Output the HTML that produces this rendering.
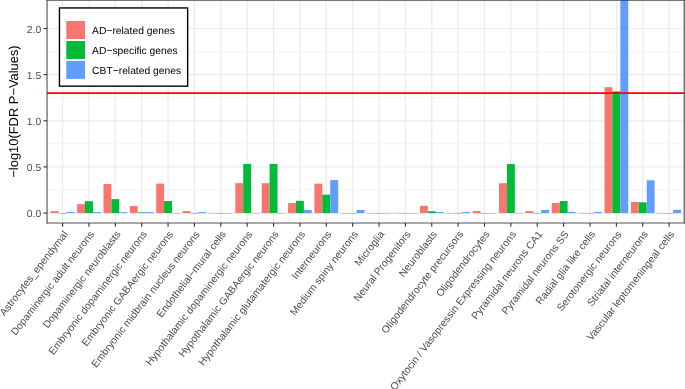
<!DOCTYPE html>
<html><head><meta charset="utf-8"><style>
html,body{margin:0;padding:0;background:#fff;}
body{width:685px;height:389px;overflow:hidden;}
svg{display:block;font-family:"Liberation Sans", sans-serif;will-change:transform;text-rendering:geometricPrecision;}
</style></head><body>
<svg width="685" height="389" viewBox="0 0 685 389">
<rect x="0" y="0" width="685" height="389" fill="#fff"/>
<defs><clipPath id="pc"><rect x="47.05" y="0.00" width="637.15" height="223.00"/></clipPath></defs>
<line x1="47.05" x2="684.2" y1="190.03" y2="190.03" stroke="#EBEBEB" stroke-width="0.6"/>
<line x1="47.05" x2="684.2" y1="143.88" y2="143.88" stroke="#EBEBEB" stroke-width="0.6"/>
<line x1="47.05" x2="684.2" y1="97.72" y2="97.72" stroke="#EBEBEB" stroke-width="0.6"/>
<line x1="47.05" x2="684.2" y1="51.57" y2="51.57" stroke="#EBEBEB" stroke-width="0.6"/>
<line x1="47.05" x2="684.2" y1="5.43" y2="5.43" stroke="#EBEBEB" stroke-width="0.6"/>
<line x1="47.05" x2="684.2" y1="213.10" y2="213.10" stroke="#EBEBEB" stroke-width="1.2"/>
<line x1="47.05" x2="684.2" y1="166.95" y2="166.95" stroke="#EBEBEB" stroke-width="1.2"/>
<line x1="47.05" x2="684.2" y1="120.80" y2="120.80" stroke="#EBEBEB" stroke-width="1.2"/>
<line x1="47.05" x2="684.2" y1="74.65" y2="74.65" stroke="#EBEBEB" stroke-width="1.2"/>
<line x1="47.05" x2="684.2" y1="28.50" y2="28.50" stroke="#EBEBEB" stroke-width="1.2"/>
<line x1="62.60" x2="62.60" y1="0.4" y2="223.0" stroke="#EBEBEB" stroke-width="1.2"/>
<line x1="88.97" x2="88.97" y1="0.4" y2="223.0" stroke="#EBEBEB" stroke-width="1.2"/>
<line x1="115.34" x2="115.34" y1="0.4" y2="223.0" stroke="#EBEBEB" stroke-width="1.2"/>
<line x1="141.71" x2="141.71" y1="0.4" y2="223.0" stroke="#EBEBEB" stroke-width="1.2"/>
<line x1="168.08" x2="168.08" y1="0.4" y2="223.0" stroke="#EBEBEB" stroke-width="1.2"/>
<line x1="194.45" x2="194.45" y1="0.4" y2="223.0" stroke="#EBEBEB" stroke-width="1.2"/>
<line x1="220.82" x2="220.82" y1="0.4" y2="223.0" stroke="#EBEBEB" stroke-width="1.2"/>
<line x1="247.19" x2="247.19" y1="0.4" y2="223.0" stroke="#EBEBEB" stroke-width="1.2"/>
<line x1="273.56" x2="273.56" y1="0.4" y2="223.0" stroke="#EBEBEB" stroke-width="1.2"/>
<line x1="299.93" x2="299.93" y1="0.4" y2="223.0" stroke="#EBEBEB" stroke-width="1.2"/>
<line x1="326.30" x2="326.30" y1="0.4" y2="223.0" stroke="#EBEBEB" stroke-width="1.2"/>
<line x1="352.67" x2="352.67" y1="0.4" y2="223.0" stroke="#EBEBEB" stroke-width="1.2"/>
<line x1="379.04" x2="379.04" y1="0.4" y2="223.0" stroke="#EBEBEB" stroke-width="1.2"/>
<line x1="405.41" x2="405.41" y1="0.4" y2="223.0" stroke="#EBEBEB" stroke-width="1.2"/>
<line x1="431.78" x2="431.78" y1="0.4" y2="223.0" stroke="#EBEBEB" stroke-width="1.2"/>
<line x1="458.15" x2="458.15" y1="0.4" y2="223.0" stroke="#EBEBEB" stroke-width="1.2"/>
<line x1="484.52" x2="484.52" y1="0.4" y2="223.0" stroke="#EBEBEB" stroke-width="1.2"/>
<line x1="510.89" x2="510.89" y1="0.4" y2="223.0" stroke="#EBEBEB" stroke-width="1.2"/>
<line x1="537.26" x2="537.26" y1="0.4" y2="223.0" stroke="#EBEBEB" stroke-width="1.2"/>
<line x1="563.63" x2="563.63" y1="0.4" y2="223.0" stroke="#EBEBEB" stroke-width="1.2"/>
<line x1="590.00" x2="590.00" y1="0.4" y2="223.0" stroke="#EBEBEB" stroke-width="1.2"/>
<line x1="616.37" x2="616.37" y1="0.4" y2="223.0" stroke="#EBEBEB" stroke-width="1.2"/>
<line x1="642.74" x2="642.74" y1="0.4" y2="223.0" stroke="#EBEBEB" stroke-width="1.2"/>
<line x1="669.11" x2="669.11" y1="0.4" y2="223.0" stroke="#EBEBEB" stroke-width="1.2"/>
<g clip-path="url(#pc)">
<rect x="50.73" y="211.16" width="7.91" height="1.94" fill="#F8766D"/>
<rect x="58.64" y="213.05" width="7.91" height="0.42" fill="#00BA38"/>
<rect x="66.56" y="212.08" width="7.91" height="1.02" fill="#619CFF"/>
<rect x="77.10" y="204.15" width="7.91" height="8.95" fill="#F8766D"/>
<rect x="85.01" y="201.19" width="7.91" height="11.91" fill="#00BA38"/>
<rect x="92.93" y="212.08" width="7.91" height="1.02" fill="#619CFF"/>
<rect x="103.47" y="183.93" width="7.91" height="29.17" fill="#F8766D"/>
<rect x="111.38" y="199.16" width="7.91" height="13.94" fill="#00BA38"/>
<rect x="119.30" y="212.18" width="7.91" height="0.92" fill="#619CFF"/>
<rect x="129.84" y="205.90" width="7.91" height="7.20" fill="#F8766D"/>
<rect x="137.75" y="212.36" width="7.91" height="0.74" fill="#00BA38"/>
<rect x="145.67" y="212.08" width="7.91" height="1.02" fill="#619CFF"/>
<rect x="156.21" y="183.56" width="7.91" height="29.54" fill="#F8766D"/>
<rect x="164.12" y="201.01" width="7.91" height="12.09" fill="#00BA38"/>
<rect x="172.04" y="213.05" width="7.91" height="0.42" fill="#619CFF"/>
<rect x="182.58" y="211.07" width="7.91" height="2.03" fill="#F8766D"/>
<rect x="190.49" y="213.05" width="7.91" height="0.42" fill="#00BA38"/>
<rect x="198.41" y="212.08" width="7.91" height="1.02" fill="#619CFF"/>
<rect x="208.95" y="213.05" width="7.91" height="0.42" fill="#F8766D"/>
<rect x="216.86" y="213.05" width="7.91" height="0.42" fill="#00BA38"/>
<rect x="224.78" y="213.05" width="7.91" height="0.42" fill="#619CFF"/>
<rect x="235.32" y="183.19" width="7.91" height="29.91" fill="#F8766D"/>
<rect x="243.23" y="163.90" width="7.91" height="49.20" fill="#00BA38"/>
<rect x="251.15" y="213.05" width="7.91" height="0.42" fill="#619CFF"/>
<rect x="261.69" y="183.19" width="7.91" height="29.91" fill="#F8766D"/>
<rect x="269.60" y="163.90" width="7.91" height="49.20" fill="#00BA38"/>
<rect x="277.52" y="213.05" width="7.91" height="0.42" fill="#619CFF"/>
<rect x="288.06" y="203.13" width="7.91" height="9.97" fill="#F8766D"/>
<rect x="295.97" y="200.82" width="7.91" height="12.28" fill="#00BA38"/>
<rect x="303.89" y="209.87" width="7.91" height="3.23" fill="#619CFF"/>
<rect x="314.43" y="183.66" width="7.91" height="29.44" fill="#F8766D"/>
<rect x="322.34" y="194.64" width="7.91" height="18.46" fill="#00BA38"/>
<rect x="330.26" y="180.15" width="7.91" height="32.95" fill="#619CFF"/>
<rect x="340.80" y="213.05" width="7.91" height="0.42" fill="#F8766D"/>
<rect x="348.71" y="213.05" width="7.91" height="0.42" fill="#00BA38"/>
<rect x="356.63" y="210.05" width="7.91" height="3.05" fill="#619CFF"/>
<rect x="367.17" y="213.05" width="7.91" height="0.42" fill="#F8766D"/>
<rect x="375.08" y="213.05" width="7.91" height="0.42" fill="#00BA38"/>
<rect x="383.00" y="213.05" width="7.91" height="0.42" fill="#619CFF"/>
<rect x="393.54" y="213.05" width="7.91" height="0.42" fill="#F8766D"/>
<rect x="401.45" y="213.05" width="7.91" height="0.42" fill="#00BA38"/>
<rect x="409.37" y="213.05" width="7.91" height="0.42" fill="#619CFF"/>
<rect x="419.91" y="205.81" width="7.91" height="7.29" fill="#F8766D"/>
<rect x="427.82" y="211.25" width="7.91" height="1.85" fill="#00BA38"/>
<rect x="435.74" y="211.99" width="7.91" height="1.11" fill="#619CFF"/>
<rect x="446.28" y="213.05" width="7.91" height="0.42" fill="#F8766D"/>
<rect x="454.19" y="213.05" width="7.91" height="0.42" fill="#00BA38"/>
<rect x="462.11" y="212.08" width="7.91" height="1.02" fill="#619CFF"/>
<rect x="472.65" y="211.07" width="7.91" height="2.03" fill="#F8766D"/>
<rect x="480.56" y="213.05" width="7.91" height="0.42" fill="#00BA38"/>
<rect x="488.48" y="213.05" width="7.91" height="0.42" fill="#619CFF"/>
<rect x="499.02" y="183.19" width="7.91" height="29.91" fill="#F8766D"/>
<rect x="506.93" y="164.09" width="7.91" height="49.01" fill="#00BA38"/>
<rect x="514.85" y="213.05" width="7.91" height="0.42" fill="#619CFF"/>
<rect x="525.39" y="211.07" width="7.91" height="2.03" fill="#F8766D"/>
<rect x="533.30" y="213.05" width="7.91" height="0.42" fill="#00BA38"/>
<rect x="541.22" y="209.96" width="7.91" height="3.14" fill="#619CFF"/>
<rect x="551.76" y="203.04" width="7.91" height="10.06" fill="#F8766D"/>
<rect x="559.67" y="201.01" width="7.91" height="12.09" fill="#00BA38"/>
<rect x="567.59" y="211.90" width="7.91" height="1.20" fill="#619CFF"/>
<rect x="578.13" y="213.05" width="7.91" height="0.42" fill="#F8766D"/>
<rect x="586.04" y="213.05" width="7.91" height="0.42" fill="#00BA38"/>
<rect x="593.96" y="211.90" width="7.91" height="1.20" fill="#619CFF"/>
<rect x="604.50" y="87.20" width="7.91" height="125.90" fill="#F8766D"/>
<rect x="612.41" y="91.36" width="7.91" height="121.74" fill="#00BA38"/>
<rect x="620.33" y="-63.80" width="7.91" height="276.90" fill="#619CFF"/>
<rect x="630.87" y="202.02" width="7.91" height="11.08" fill="#F8766D"/>
<rect x="638.78" y="202.30" width="7.91" height="10.80" fill="#00BA38"/>
<rect x="646.70" y="180.33" width="7.91" height="32.77" fill="#619CFF"/>
<rect x="657.24" y="213.05" width="7.91" height="0.42" fill="#F8766D"/>
<rect x="665.15" y="213.05" width="7.91" height="0.42" fill="#00BA38"/>
<rect x="673.07" y="209.87" width="7.91" height="3.23" fill="#619CFF"/>
</g>
<line x1="47.05" x2="684.2" y1="93.21" y2="93.21" stroke="#FF0000" stroke-width="1.7"/>
<line x1="46.599999999999994" x2="684.7" y1="0.35" y2="0.35" stroke="#333333" stroke-width="0.8"/>
<line x1="46.599999999999994" x2="684.7" y1="223.0" y2="223.0" stroke="#333333" stroke-width="0.85"/>
<line x1="47.05" x2="47.05" y1="0" y2="223.5" stroke="#333333" stroke-width="0.95"/>
<line x1="684.2" x2="684.2" y1="0" y2="223.5" stroke="#333333" stroke-width="1.0"/>
<line x1="43.45" x2="47.05" y1="213.10" y2="213.10" stroke="#333333" stroke-width="1.1"/>
<text x="41.2" y="217.40" text-anchor="end" font-size="10.3" fill="#4D4D4D">0.0</text>
<line x1="43.45" x2="47.05" y1="166.95" y2="166.95" stroke="#333333" stroke-width="1.1"/>
<text x="41.2" y="171.25" text-anchor="end" font-size="10.3" fill="#4D4D4D">0.5</text>
<line x1="43.45" x2="47.05" y1="120.80" y2="120.80" stroke="#333333" stroke-width="1.1"/>
<text x="41.2" y="125.10" text-anchor="end" font-size="10.3" fill="#4D4D4D">1.0</text>
<line x1="43.45" x2="47.05" y1="74.65" y2="74.65" stroke="#333333" stroke-width="1.1"/>
<text x="41.2" y="78.95" text-anchor="end" font-size="10.3" fill="#4D4D4D">1.5</text>
<line x1="43.45" x2="47.05" y1="28.50" y2="28.50" stroke="#333333" stroke-width="1.1"/>
<text x="41.2" y="32.80" text-anchor="end" font-size="10.3" fill="#4D4D4D">2.0</text>
<line x1="62.60" x2="62.60" y1="223.0" y2="226.80" stroke="#333333" stroke-width="1.1"/>
<text transform="translate(68.30,234.30) rotate(-52.2)" text-anchor="end" font-size="10.3" fill="#4D4D4D">Astrocytes_ependymal</text>
<line x1="88.97" x2="88.97" y1="223.0" y2="226.80" stroke="#333333" stroke-width="1.1"/>
<text transform="translate(94.67,234.30) rotate(-52.2)" text-anchor="end" font-size="10.3" fill="#4D4D4D">Dopaminergic adult neurons</text>
<line x1="115.34" x2="115.34" y1="223.0" y2="226.80" stroke="#333333" stroke-width="1.1"/>
<text transform="translate(121.04,234.30) rotate(-52.2)" text-anchor="end" font-size="10.3" fill="#4D4D4D">Dopaminergic neuroblasts</text>
<line x1="141.71" x2="141.71" y1="223.0" y2="226.80" stroke="#333333" stroke-width="1.1"/>
<text transform="translate(147.41,234.30) rotate(-52.2)" text-anchor="end" font-size="10.3" fill="#4D4D4D">Embryonic dopaminergic neurons</text>
<line x1="168.08" x2="168.08" y1="223.0" y2="226.80" stroke="#333333" stroke-width="1.1"/>
<text transform="translate(173.78,234.30) rotate(-52.2)" text-anchor="end" font-size="10.3" fill="#4D4D4D">Embryonic GABAergic neurons</text>
<line x1="194.45" x2="194.45" y1="223.0" y2="226.80" stroke="#333333" stroke-width="1.1"/>
<text transform="translate(200.15,234.30) rotate(-52.2)" text-anchor="end" font-size="10.3" fill="#4D4D4D">Embryonic midbrain nucleus neurons</text>
<line x1="220.82" x2="220.82" y1="223.0" y2="226.80" stroke="#333333" stroke-width="1.1"/>
<text transform="translate(226.52,234.30) rotate(-52.2)" text-anchor="end" font-size="10.3" fill="#4D4D4D">Endothelial−mural cells</text>
<line x1="247.19" x2="247.19" y1="223.0" y2="226.80" stroke="#333333" stroke-width="1.1"/>
<text transform="translate(252.89,234.30) rotate(-52.2)" text-anchor="end" font-size="10.3" fill="#4D4D4D">Hypothalamic dopaminergic neurons</text>
<line x1="273.56" x2="273.56" y1="223.0" y2="226.80" stroke="#333333" stroke-width="1.1"/>
<text transform="translate(279.26,234.30) rotate(-52.2)" text-anchor="end" font-size="10.3" fill="#4D4D4D">Hypothalamic GABAergic neurons</text>
<line x1="299.93" x2="299.93" y1="223.0" y2="226.80" stroke="#333333" stroke-width="1.1"/>
<text transform="translate(305.63,234.30) rotate(-52.2)" text-anchor="end" font-size="10.3" fill="#4D4D4D">Hypothalamic glutamatergic neurons</text>
<line x1="326.30" x2="326.30" y1="223.0" y2="226.80" stroke="#333333" stroke-width="1.1"/>
<text transform="translate(332.00,234.30) rotate(-52.2)" text-anchor="end" font-size="10.3" fill="#4D4D4D">Interneurons</text>
<line x1="352.67" x2="352.67" y1="223.0" y2="226.80" stroke="#333333" stroke-width="1.1"/>
<text transform="translate(358.37,234.30) rotate(-52.2)" text-anchor="end" font-size="10.3" fill="#4D4D4D">Medium spiny neurons</text>
<line x1="379.04" x2="379.04" y1="223.0" y2="226.80" stroke="#333333" stroke-width="1.1"/>
<text transform="translate(384.74,234.30) rotate(-52.2)" text-anchor="end" font-size="10.3" fill="#4D4D4D">Microglia</text>
<line x1="405.41" x2="405.41" y1="223.0" y2="226.80" stroke="#333333" stroke-width="1.1"/>
<text transform="translate(411.11,234.30) rotate(-52.2)" text-anchor="end" font-size="10.3" fill="#4D4D4D">Neural Progenitors</text>
<line x1="431.78" x2="431.78" y1="223.0" y2="226.80" stroke="#333333" stroke-width="1.1"/>
<text transform="translate(437.48,234.30) rotate(-52.2)" text-anchor="end" font-size="10.3" fill="#4D4D4D">Neuroblasts</text>
<line x1="458.15" x2="458.15" y1="223.0" y2="226.80" stroke="#333333" stroke-width="1.1"/>
<text transform="translate(463.85,234.30) rotate(-52.2)" text-anchor="end" font-size="10.3" fill="#4D4D4D">Oligodendrocyte precursors</text>
<line x1="484.52" x2="484.52" y1="223.0" y2="226.80" stroke="#333333" stroke-width="1.1"/>
<text transform="translate(490.22,234.30) rotate(-52.2)" text-anchor="end" font-size="10.3" fill="#4D4D4D">Oligodendrocytes</text>
<line x1="510.89" x2="510.89" y1="223.0" y2="226.80" stroke="#333333" stroke-width="1.1"/>
<text transform="translate(516.59,234.30) rotate(-52.2)" text-anchor="end" font-size="10.3" fill="#4D4D4D">Oxytocin / Vasopressin Expressing neurons</text>
<line x1="537.26" x2="537.26" y1="223.0" y2="226.80" stroke="#333333" stroke-width="1.1"/>
<text transform="translate(542.96,234.30) rotate(-52.2)" text-anchor="end" font-size="10.3" fill="#4D4D4D">Pyramidal neurons CA1</text>
<line x1="563.63" x2="563.63" y1="223.0" y2="226.80" stroke="#333333" stroke-width="1.1"/>
<text transform="translate(569.33,234.30) rotate(-52.2)" text-anchor="end" font-size="10.3" fill="#4D4D4D">Pyramidal neurons SS</text>
<line x1="590.00" x2="590.00" y1="223.0" y2="226.80" stroke="#333333" stroke-width="1.1"/>
<text transform="translate(595.70,234.30) rotate(-52.2)" text-anchor="end" font-size="10.3" fill="#4D4D4D">Radial glia like cells</text>
<line x1="616.37" x2="616.37" y1="223.0" y2="226.80" stroke="#333333" stroke-width="1.1"/>
<text transform="translate(622.07,234.30) rotate(-52.2)" text-anchor="end" font-size="10.3" fill="#4D4D4D">Serotonergic neurons</text>
<line x1="642.74" x2="642.74" y1="223.0" y2="226.80" stroke="#333333" stroke-width="1.1"/>
<text transform="translate(648.44,234.30) rotate(-52.2)" text-anchor="end" font-size="10.3" fill="#4D4D4D">Striatal interneurons</text>
<line x1="669.11" x2="669.11" y1="223.0" y2="226.80" stroke="#333333" stroke-width="1.1"/>
<text transform="translate(674.81,234.30) rotate(-52.2)" text-anchor="end" font-size="10.3" fill="#4D4D4D">Vascular leptomeningeal cells</text>
<text transform="translate(18.0,111.5) rotate(-90)" text-anchor="middle" font-size="12.9" fill="#000">−log10(FDR P−Values)</text>
<rect x="59.45" y="7.95" width="128.2" height="78.2" fill="#fff" stroke="#000" stroke-width="1.4"/>
<rect x="66.3" y="21.00" width="18.7" height="18.0" fill="#F8766D"/>
<text x="92.1" y="34.00" font-size="10.3" fill="#000">AD−related genes</text>
<rect x="66.3" y="41.00" width="18.7" height="18.0" fill="#00BA38"/>
<text x="92.1" y="54.00" font-size="10.3" fill="#000">AD−specific genes</text>
<rect x="66.3" y="60.90" width="18.7" height="18.0" fill="#619CFF"/>
<text x="92.1" y="73.90" font-size="10.3" fill="#000">CBT−related genes</text>
</svg>
</body></html>
